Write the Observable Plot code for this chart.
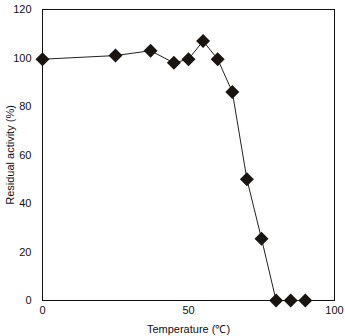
<!DOCTYPE html>
<html><head><meta charset="utf-8">
<script src="https://cdn.jsdelivr.net/npm/d3@7"></script>
<script src="https://cdn.jsdelivr.net/npm/@observablehq/plot@0.6"></script>
<style>
body{margin:0;background:#fff;}
#chart{position:relative;width:345px;height:336px;font-family:"Liberation Sans",Arial,sans-serif;}
</style></head>
<body><div id="chart"></div>
<script>
const temperature = [0, 25, 37, 45, 50, 55, 60, 65, 70, 75, 80, 85, 90];
const activity = [99.5, 101, 103, 98, 99.5, 107, 99.5, 86, 50, 25.5, 0, 0, 0];
const xTicks = [0, 50, 100];
const yTicks = [0, 20, 40, 60, 80, 100, 120];

const data = temperature.map((t, i) => ({t, a: activity[i]}));

const plot = Plot.plot({
  width: 345, height: 336,
  marginLeft: 42, marginRight: 11, marginTop: 9, marginBottom: 36,
  style: {fontFamily: '"Liberation Sans",Arial,sans-serif', fontSize: "11px", color: "#111", background: "#fff"},
  x: {domain: [0, 100], ticks: xTicks, tickSize: 0, tickPadding: 6, label: "Temperature (℃)", labelAnchor: "center", labelOffset: 30, labelArrow: "none"},
  y: {domain: [0, 120], ticks: yTicks, tickSize: 0, tickPadding: 11, label: "Residual activity (%)", labelAnchor: "center", labelOffset: 38, labelArrow: "none"},
  marks: [
    Plot.frame({stroke: "#111", strokeWidth: 1}),
    Plot.axisX({ticks: xTicks, tickSize: 0, tickPadding: 6, fontSize: 11, label: "Temperature (℃)", labelAnchor: "center", labelOffset: 32, labelArrow: "none"}),
    Plot.axisY({ticks: yTicks, tickSize: 0, tickPadding: 11, fontSize: 11, label: "Residual activity (%)", labelAnchor: "center", labelOffset: 36, labelArrow: "none"}),
    Plot.line(data, {x: "t", y: "a", stroke: "#222", strokeWidth: 1}),
    Plot.dot(data, {x: "t", y: "a", symbol: "diamond2", r: 6.3, fill: "#1a1410", stroke: "none"})
  ]
});
document.getElementById("chart").appendChild(plot);
</script>
</body></html>
